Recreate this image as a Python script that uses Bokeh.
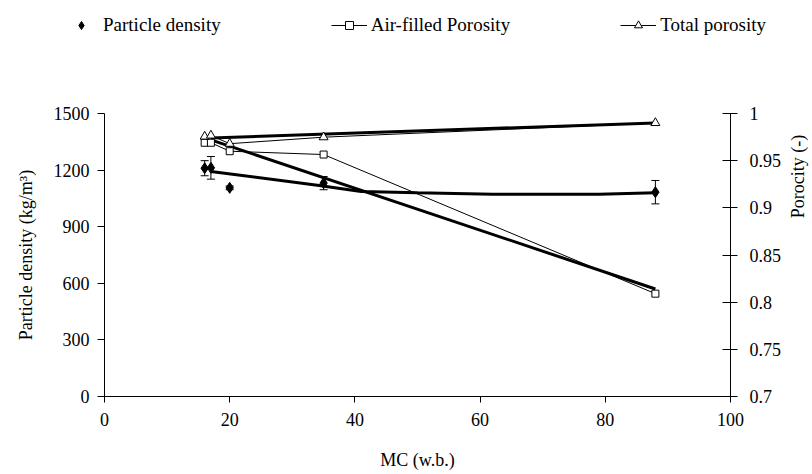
import math

import numpy as np
from bokeh.embed import file_html
from bokeh.layouts import column, row
from bokeh.models import (ColumnDataSource, CustomJSTickFormatter, FixedTicker,
                          Label, Legend, LegendItem, LinearAxis, Range1d,
                          TeeHead, Whisker)
from bokeh.plotting import figure
from bokeh.resources import INLINE

# Moisture content (% w.b.) of the samples
mc = [16, 17, 20, 35, 88]

# Particle density (kg/m3) with standard deviation
density = [1210, 1212, 1106, 1131, 1083]
density_sd = [40, 60, 10, 35, 62]

# Porosities (-)
air_filled = [0.969, 0.969, 0.960, 0.9565, 0.809]
total_por = [0.9756, 0.9767, 0.968, 0.9749, 0.990]

# Trend curves
density_trend_mc = [17, 34, 41, 50, 62, 79, 88]
density_trend = [1193, 1120, 1087, 1080, 1072, 1072, 1080]
por_trend_mc = [17, 88]
air_trend = [0.972, 0.814]
total_trend = [0.974, 0.990]

x_ticks = [0, 20, 40, 60, 80, 100]
density_ticks = [0, 300, 600, 900, 1200, 1500]
porosity_ticks = [0.7, 0.75, 0.8, 0.85, 0.9, 0.95, 1.0]

FONT = "Liberation Serif"
FS = "18px"
LEGEND_FS = "19px"

TOP_H = 45
MAIN_W = 784
MAIN_H = 474 - TOP_H


def bare_figure(width, height):
    f = figure(width=width, height=height, x_range=Range1d(0, 1), y_range=Range1d(0, 1),
               x_axis_type=None, y_axis_type=None, output_backend="svg",
               toolbar_location=None, min_border=0)
    f.outline_line_color = None
    return f


# ---- main chart -------------------------------------------------------------
p = figure(width=MAIN_W, height=MAIN_H, x_range=Range1d(0, 100), y_range=Range1d(0, 1500),
           output_backend="svg", toolbar_location=None,
           min_border_left=104, min_border_right=MAIN_W - 733,
           min_border_top=113 - TOP_H, min_border_bottom=78)
p.outline_line_color = None
p.xgrid.visible = False
p.ygrid.visible = False

p.extra_y_ranges = {"por": Range1d(0.7, 1.0)}


def style_axis(ax):
    ax.axis_line_color = "black"
    ax.axis_line_width = 1
    ax.major_tick_line_color = "black"
    ax.minor_tick_line_color = None
    ax.major_label_text_font = FONT
    ax.major_label_text_font_size = FS
    ax.major_label_text_color = "black"
    ax.axis_label_text_font = FONT
    ax.axis_label_text_font_size = FS
    ax.axis_label_text_font_style = "normal"
    ax.axis_label_text_color = "black"


xa = p.xaxis[0]
style_axis(xa)
xa.ticker = FixedTicker(ticks=x_ticks)
xa.axis_label = "MC (w.b.)"
xa.major_tick_in = 0
xa.major_tick_out = 6
xa.major_label_standoff = 10
xa.axis_label_standoff = 21

ya = p.yaxis[0]
style_axis(ya)
ya.ticker = FixedTicker(ticks=density_ticks)
ya.axis_label = "Particle density (kg/m\u00b3)"
ya.major_tick_in = 0
ya.major_tick_out = 7
ya.major_label_standoff = 8
ya.axis_label_standoff = 15

ra = LinearAxis(y_range_name="por")
style_axis(ra)
ra.ticker = FixedTicker(ticks=porosity_ticks)
ra.formatter = CustomJSTickFormatter(code="return String(Number(tick.toFixed(2)));")
ra.major_tick_in = 8
ra.major_tick_out = 7
ra.major_label_standoff = 12
p.add_layout(ra, "right")

# Trend lines (thick)
p.line(density_trend_mc, density_trend, line_color="black", line_width=3)
p.line(por_trend_mc, air_trend, line_color="black", line_width=3, y_range_name="por")
p.line(por_trend_mc, total_trend, line_color="black", line_width=3, y_range_name="por")

# Measured porosities (thin connecting lines)
p.line(mc, air_filled, line_color="black", line_width=1, y_range_name="por")
p.line(mc, total_por, line_color="black", line_width=1, y_range_name="por")

# Density error bars
dens_src = ColumnDataSource(data=dict(
    x=mc, y=density,
    upper=[d + s for d, s in zip(density, density_sd)],
    lower=[d - s for d, s in zip(density, density_sd)],
))
p.add_layout(Whisker(source=dens_src, base="x", upper="upper", lower="lower",
                     dimension="height", line_color="black", line_width=1,
                     upper_head=TeeHead(size=8, line_color="black", line_width=1),
                     lower_head=TeeHead(size=8, line_color="black", line_width=1)))

SQ = dict(marker="square", size=7, fill_color="white", line_color="black", line_width=1)
TRI = dict(marker="triangle", size=9, fill_color="white", line_color="black", line_width=1)
DIA = dict(marker="diamond", size=11, fill_color="black", line_color="black")

p.scatter(mc, air_filled, y_range_name="por", **SQ)
p.scatter(mc, total_por, y_range_name="por", **TRI)
p.scatter("x", "y", source=dens_src, **DIA)

# ---- legend strip above the chart ------------------------------------------
# Legend-only renderers: a single NaN point so nothing lands in the strip itself.
top = bare_figure(812, TOP_H)
nan = np.array([np.nan])
leg_dia = top.scatter(x=nan, y=nan, **DIA)
leg_air_line = top.line(x=nan, y=nan, line_color="black", line_width=1)
leg_air_sq = top.scatter(x=nan, y=nan, **SQ)
leg_tot_line = top.line(x=nan, y=nan, line_color="black", line_width=1)
leg_tot_tri = top.scatter(x=nan, y=nan, **TRI)

legend = Legend(items=[
    LegendItem(label="Particle density", renderers=[leg_dia]),
    LegendItem(label="Air-filled Porosity", renderers=[leg_air_line, leg_air_sq]),
    LegendItem(label="Total porosity", renderers=[leg_tot_line, leg_tot_tri]),
], orientation="horizontal", location=(63, 9), spacing=110,
    glyph_width=36, glyph_height=20, label_standoff=4,
    padding=0, margin=0, border_line_color=None, background_fill_alpha=0,
    label_text_font=FONT, label_text_font_size=LEGEND_FS, label_text_color="black")
top.add_layout(legend, "center")

# ---- right-hand axis title, reading bottom to top ---------------------------
side = bare_figure(812 - MAIN_W, MAIN_H)
side.add_layout(Label(x=(812 - MAIN_W) / 2 - 1, y=MAIN_H - (254 - TOP_H),
                      x_units="screen", y_units="screen",
                      text="Porocity (-)", angle=math.pi / 2,
                      text_align="center", text_baseline="middle",
                      text_font=FONT, text_font_size=FS, text_color="black"))

layout = column(top, row(p, side, spacing=0), spacing=0)

open("out.html", "w").write(file_html(layout, INLINE))
